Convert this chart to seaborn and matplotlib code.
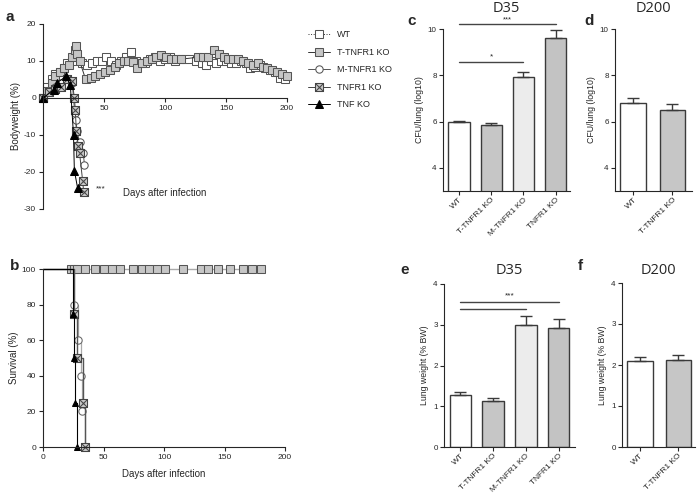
import numpy as np
import pandas as pd
import matplotlib
matplotlib.use('Agg')
import matplotlib.pyplot as plt
from matplotlib.path import Path
import seaborn as sns

sns.set_style('ticks')
plt.rcParams['font.family'] = ['Liberation Sans', 'DejaVu Sans']
plt.rcParams['axes.unicode_minus'] = False

# ---- panel a: bodyweight (%) over days after infection
wt_day = [0, 3, 7, 10, 14, 17, 20, 24, 28, 32, 36, 40, 44, 48, 52, 56, 60, 64, 68, 72, 76, 80,
          84, 88, 92, 96, 100, 104, 108, 112, 116, 120, 125, 130, 134, 138, 142, 146, 150, 154,
          158, 162, 166, 170, 174, 178, 182, 186, 190, 194, 198]
wt_bw = [0, 3, 5, 6.5, 7, 8, 9.5, 10, 11, 9.5, 9, 9.5, 10, 10, 11, 10, 9, 10, 11, 12.5, 10, 9.5,
         9.5, 10.5, 11, 10, 10.5, 11, 10, 10.5, 10.5, 10.5, 10, 9.5, 9, 10, 9.5, 10, 10, 9.5,
         9.5, 10, 9.5, 8, 8.5, 9, 8, 7.5, 7, 5.5, 5]
t_day = [0, 3, 7, 10, 14, 17, 21, 24, 26, 27, 28, 30, 35, 39, 43, 47, 51, 55, 59, 62, 66, 70,
         74, 77, 81, 85, 89, 93, 97, 101, 105, 109, 113, 127, 131, 135, 140, 144, 148, 152, 156,
         160, 164, 168, 172, 176, 180, 184, 188, 192, 196, 200]
t_bw = [0, 2, 4, 6, 7, 8, 9, 11, 13, 14, 12, 10, 5, 5.5, 6, 6.5, 7, 7.5, 8.5, 9.5, 10, 10,
        9.8, 8, 9.5, 10, 10.5, 11, 11.5, 11, 10.5, 10.5, 10.5, 11, 11, 11, 13, 12, 11, 10.5, 10.5,
        10.5, 10, 9.5, 9, 9.5, 8.5, 8, 7.5, 7, 6.5, 6]
m_day = [0, 5, 10, 15, 20, 24, 26, 27, 28, 30, 31, 33, 34]
m_bw = [0, 2, 3, 4, 5, 4, -4, -6, -9, -12, -14.5, -15, -18]
r_day = [0, 5, 10, 15, 20, 24, 25.7, 26.5, 27.3, 29, 30, 32.5, 33.3]
r_bw = [0, 1.5, 2.5, 3, 5, 4.5, 0, -3.2, -9, -13, -15, -22.4, -25.3]
k_day = [0, 8.7, 11.5, 19, 22.4, 25, 25.7, 28.4]
k_bw = [0, 2.2, 4.1, 5.9, 3.5, -10, -19.6, -24.4]

# ---- panel b: survival (%)
alive_day = [0, 23.4, 25.6, 28, 34.9, 42.6, 50, 57, 63.3, 74, 81.8, 87.8, 94.1, 101, 115.5,
             130.7, 136.7, 145, 154.6, 165.6, 173, 180]
alive_pct = [100] * len(alive_day)
m_sday = [0, 26, 28.6, 31.4, 32.2, 35]
m_surv = [100, 80, 60, 40, 20, 0]
r_sday = [0, 26, 28, 32.7, 35]
r_surv = [100, 75, 50, 25, 0]
k_sday = [0, 25, 26, 26.5, 28]
k_surv = [100, 75, 50, 25, 0]

# ---- panels c-f: bars
groups4 = ['WT', 'T-TNFR1 KO', 'M-TNFR1 KO', 'TNFR1 KO']
groups2 = ['WT', 'T-TNFR1 KO']
cfu35 = [5.97, 5.85, 7.93, 9.62]
cfu35_err = [0.07, 0.07, 0.2, 0.35]
cfu200 = [6.8, 6.52]
cfu200_err = [0.22, 0.25]
lung35 = [1.27, 1.13, 3.0, 2.93]
lung35_err = [0.07, 0.07, 0.22, 0.22]
lung200 = [2.1, 2.12]
lung200_err = [0.1, 0.13]
bar_colors = ['#ffffff', '#c6c6c6', '#ececec', '#c3c3c3']

W, H = 697, 501
fig = plt.figure(figsize=(W / 100, H / 100), dpi=100)


def px_axes(l, t, r, b):
    return fig.add_axes([l / W, 1 - b / H, (r - l) / W, (b - t) / H])


# square with a cross inside (GraphPad style)
xbox = Path([(-1, -1), (1, -1), (1, 1), (-1, 1), (-1, -1), (-1, -1), (1, 1), (-1, 1), (1, -1)],
            [Path.MOVETO, Path.LINETO, Path.LINETO, Path.LINETO, Path.CLOSEPOLY,
             Path.MOVETO, Path.LINETO, Path.MOVETO, Path.LINETO])

TICK = 6
edge = '#3a3a3a'

# ---------------- panel a
ax = px_axes(43, 24, 287, 209)
series = [
    ('WT', wt_day, wt_bw, dict(marker='s', mfc='white', mec='#555555', ms=5.8, color='#333333', ls=':')),
    ('T-TNFR1 KO', t_day, t_bw, dict(marker='s', mfc='#c6c6c6', mec='#555555', ms=5.8, color='#333333')),
    ('M-TNFR1 KO', m_day, m_bw, dict(marker='o', mfc='white', mec='#555555', ms=5.3, color='#555555')),
    ('TNFR1 KO', r_day, r_bw, dict(marker=xbox, mfc='#c6c6c6', mec='#444444', ms=5.8, color='#444444')),
    ('TNF KO', k_day, k_bw, dict(marker='^', mfc='black', mec='black', ms=5.2, color='black')),
]
handles = []
for name, d, v, kw in series:
    sns.lineplot(x=d, y=v, ax=ax, estimator=None, sort=False, lw=0.7, clip_on=False, **kw)
    handles.append(ax.lines[-1])
ax.set_xlim(0, 200)
ax.set_ylim(-30, 20)
ax.set_yticks([-30, -20, -10, 0, 10, 20])
ax.set_xticks([50, 100, 150, 200])
sns.despine(ax=ax)
ax.spines['bottom'].set_position(('data', 0))
ax.tick_params(labelsize=TICK, length=3, width=0.8, pad=2)
ax.set_ylabel('Bodyweight (%)', fontsize=7, labelpad=2)
ax.text(100, -25.7, 'Days after infection', fontsize=7, ha='center', va='center')
ax.text(47, -24.5, '***', fontsize=6, ha='center', va='center')
leg = fig.legend(handles, [s[0] for s in series], loc='upper left',
                 bbox_to_anchor=(300 / W, 1 - 22 / H), frameon=False, fontsize=6.5,
                 handlelength=2.4, labelspacing=0.95, handletextpad=0.8)

# ---------------- panel b
ax = px_axes(43, 269, 285, 447)
sns.lineplot(x=alive_day, y=alive_pct, ax=ax, estimator=None, color='#aaaaaa', lw=1.0,
             marker='s', mfc='#c6c6c6', mec='#555555', ms=5.8, markevery=slice(1, None), clip_on=False)
sns.lineplot(x=m_sday, y=m_surv, ax=ax, estimator=None, color='#aaaaaa', lw=0.9, drawstyle='steps-post',
             marker='o', mfc='white', mec='#666666', ms=5.3, markevery=slice(1, None), clip_on=False)
sns.lineplot(x=r_sday, y=r_surv, ax=ax, estimator=None, color='#555555', lw=1.0, drawstyle='steps-post',
             marker=xbox, mfc='#c6c6c6', mec='#444444', ms=5.8, markevery=slice(1, None), clip_on=False)
sns.lineplot(x=k_sday, y=k_surv, ax=ax, estimator=None, color='black', lw=0.8, drawstyle='steps-post',
             marker='^', mfc='black', mec='black', ms=4.8, markevery=slice(1, None), clip_on=False)
ax.set_xlim(0, 200)
ax.set_ylim(0, 100)
ax.set_xticks([0, 50, 100, 150, 200])
ax.set_yticks([0, 20, 40, 60, 80, 100])
sns.despine(ax=ax)
ax.tick_params(labelsize=TICK, length=3, width=0.8, pad=2)
ax.set_xlabel('Days after infection', fontsize=7, labelpad=6)
ax.set_ylabel('Survival (%)', fontsize=7, labelpad=2)


# ---------------- bar panels
def bar_panel(rect, groups, vals, errs, colors, ylim, yticks, ylabel, title, xlim, title_px):
    ax = px_axes(*rect)
    df = pd.DataFrame({'group': groups, 'value': vals})
    sns.barplot(data=df, x='group', y='value', hue='group', palette=colors, legend=False,
                edgecolor=edge, linewidth=1.0, width=0.66, errorbar=None, ax=ax)
    ax.errorbar(range(len(vals)), vals, yerr=[[0] * len(vals), errs], fmt='none',
                ecolor=edge, elinewidth=1.0, capsize=4, capthick=1.0)
    ax.set_xlim(*xlim)
    ax.set_ylim(*ylim)
    ax.set_yticks(yticks)
    sns.despine(ax=ax)
    ax.tick_params(axis='y', labelsize=5.8, length=3, width=0.8, pad=1.5)
    ax.tick_params(axis='x', labelsize=6, length=3, width=0.8, pad=1)
    ax.set_xticks(range(len(groups)))
    ax.set_xticklabels(groups, rotation=45, ha='right', rotation_mode='anchor')
    ax.set_xlabel('')
    ax.set_ylabel(ylabel, fontsize=6.3, labelpad=3)
    cx = (rect[0] + rect[2]) / 2
    fig.text(cx / W, 1 - title_px / H, title, fontsize=10.5, family=['Open Sans', 'DejaVu Sans'],
             ha='center', va='center')
    return ax


c = bar_panel((443, 29, 570, 191), groups4, cfu35, cfu35_err, bar_colors, (3, 10), [4, 6, 8, 10],
              'CFU/lung (log10)', 'D35', (-0.5, 3.45), 9)
c.plot([0, 3], [10.2, 10.2], color='#444444', lw=1.0, clip_on=False)
c.text(1.5, 10.26, '***', fontsize=5.5, ha='center', va='bottom')
c.plot([0, 2], [8.57, 8.57], color='#444444', lw=1.0)
c.text(1, 8.63, '*', fontsize=6, ha='center', va='bottom')

bar_panel((615, 29, 692, 191), groups2, cfu200, cfu200_err, bar_colors[:2], (3, 10), [4, 6, 8, 10],
          'CFU/lung (log10)', 'D200', (-0.47, 1.5), 9)

e = bar_panel((444, 284, 575, 447), groups4, lung35, lung35_err, bar_colors, (0, 4), [0, 1, 2, 3, 4],
              'Lung weight (% BW)', 'D35', (-0.5, 3.5), 271)
e.plot([0, 3], [3.56, 3.56], color='#444444', lw=1.0)
e.plot([0, 2], [3.39, 3.39], color='#444444', lw=1.0)
e.text(1.5, 3.62, '***', fontsize=6, ha='center', va='bottom')

bar_panel((622, 283, 695, 447), groups2, lung200, lung200_err, bar_colors[:2], (0, 4), [0, 1, 2, 3, 4],
          'Lung weight (% BW)', 'D200', (-0.47, 1.44), 270)

# panel letters
for letter, x, y in [('a', 5, 17), ('b', 10, 266), ('c', 407, 21), ('d', 584, 21), ('e', 400, 270), ('f', 578, 266)]:
    fig.text(x / W, 1 - y / H, letter, fontsize=11, fontweight='bold', ha='left', va='center')

fig.savefig('out.png', dpi=100)
